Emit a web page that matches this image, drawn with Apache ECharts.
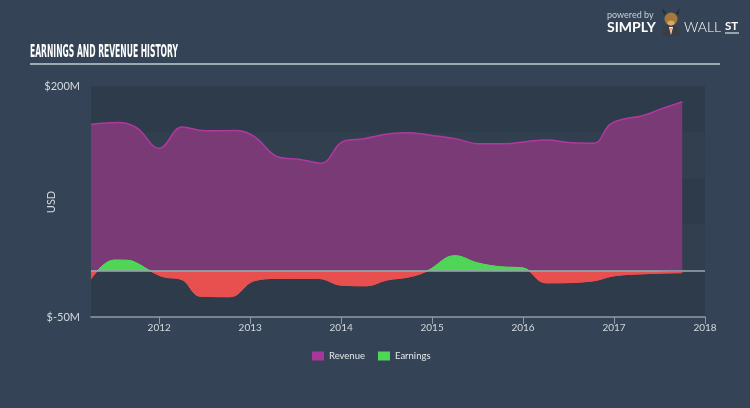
<!DOCTYPE html>
<html>
<head>
<meta charset="utf-8">
<script src="https://cdn.jsdelivr.net/npm/echarts@6/dist/echarts.min.js"></script>
<style>
html,body{margin:0;padding:0;background:#344456;}
#c{width:750px;height:408px;}
</style>
</head>
<body>
<div id="c"></div>
<script>
const chartTitle = 'EARNINGS AND REVENUE HISTORY';
const seriesNames = ['Revenue', 'Earnings'];
const xTickLabels = [2012, 2013, 2014, 2015, 2016, 2017, 2018];
const yTickLabels = [-50, 200];

const revenueDates = [2011.25, 2011.55, 2011.75, 2012.0, 2012.25, 2012.5, 2012.85, 2013.05, 2013.3, 2013.55, 2013.78, 2014.02, 2014.25, 2014.55, 2014.75, 2015.0, 2015.28, 2015.5, 2015.8, 2016.05, 2016.25, 2016.55, 2016.78, 2016.95, 2017.1, 2017.3, 2017.5, 2017.75];
const revenueValues = [158.5, 160.5, 155, 132.5, 155.5, 151.5, 151.8, 145, 123.5, 120.5, 116.5, 140, 143, 148.5, 149.5, 146.5, 142.5, 137.5, 137.5, 140, 141.5, 138.5, 138, 158, 164, 167.5, 174.5, 183];

const earningsDates = [2011.25, 2011.5, 2011.65, 2011.75, 2011.9, 2012.05, 2012.25, 2012.45, 2012.78, 2013.05, 2013.3, 2013.75, 2014.0, 2014.28, 2014.5, 2014.75, 2014.95, 2015.25, 2015.5, 2015.75, 2016.0, 2016.25, 2016.75, 2017.0, 2017.4, 2017.75];
const earningsValues = [-8.5, 11.5, 11.3, 8.5, 0, -6.5, -9.5, -27.5, -28, -10.5, -8.3, -8.3, -15.5, -16.2, -10, -6.5, 0, 16.3, 8.5, 4.3, 3, -13, -11.2, -5.4, -2.9, -2];

const revenueData = revenueDates.map((d, i) => [d, revenueValues[i]]);
const earningsData = earningsDates.map((d, i) => [d, earningsValues[i]]);

const labelColor = '#d3d9df';
const font = 'Lato';
const posColor = '#50d656';
const negColor = '#e84f4f';

const mctx = document.createElement('canvas').getContext('2d');
const titleFont = 'bold 17px "Liberation Sans Narrow", "DejaVu Sans Condensed", sans-serif';
mctx.font = titleFont;
const titleScale = 148 / mctx.measureText(chartTitle).width;

const chart = echarts.init(document.getElementById('c'), null, {renderer: 'canvas'});
chart.setOption({
  backgroundColor: '#344456',
  animation: false,
  grid: {left: 91, right: 45, top: 86, bottom: 91},
  xAxis: {
    type: 'value',
    min: 2011.25,
    max: 2018,
    splitLine: {show: false},
    axisLine: {onZero: false, lineStyle: {color: '#8e9aa7', width: 1.5}},
    axisTick: {customValues: xTickLabels, length: 7, lineStyle: {color: '#8e9aa7'}},
    axisLabel: {customValues: xTickLabels, margin: 6, color: labelColor, fontFamily: font, fontSize: 10, formatter: v => String(Math.round(v))}
  },
  yAxis: {
    type: 'value',
    min: -50,
    max: 200,
    interval: 50,
    axisLine: {show: false},
    axisTick: {show: false},
    splitLine: {show: false},
    splitArea: {show: true, areaStyle: {color: ['#2e3b4a', '#313f4f']}},
    axisLabel: {customValues: yTickLabels, margin: 11, color: labelColor, fontFamily: font, fontSize: 11, formatter: v => '$' + v + 'M'}
  },
  legend: {
    left: 312,
    top: 351,
    padding: 0,
    icon: 'rect',
    itemWidth: 12,
    itemHeight: 9,
    itemGap: 13,
    textStyle: {color: '#e2e7ec', fontFamily: font, fontSize: 9.5},
    data: [
      {name: seriesNames[0], itemStyle: {color: '#a8369b'}},
      {name: seriesNames[1], itemStyle: {color: posColor}}
    ]
  },
  series: [
    {
      name: seriesNames[0],
      type: 'line',
      data: revenueData,
      smooth: 0.4,
      showSymbol: false,
      z: 2,
      lineStyle: {color: '#b0389f', width: 1.5},
      itemStyle: {color: '#a8369b'},
      areaStyle: {color: '#7a3a75', opacity: 1}
    },
    {
      name: seriesNames[1],
      type: 'line',
      data: earningsData,
      smooth: 0.4,
      showSymbol: false,
      z: 3,
      itemStyle: {color: posColor},
      lineStyle: {width: 1, color: posColor},
      areaStyle: {opacity: 1, color: posColor}
    },
    {
      type: 'line',
      data: [],
      z: 5,
      markLine: {
        silent: true,
        symbol: ['none', 'none'],
        label: {show: false},
        lineStyle: {color: '#9ea8b3', width: 1.5, type: 'solid'},
        data: [{yAxis: 0}]
      }
    }
  ],
  graphic: [
    {type: 'text', x: 30, y: 53, scaleX: titleScale, style: {text: chartTitle, font: titleFont, fill: '#ffffff', verticalAlign: 'middle'}},
    {type: 'line', shape: {x1: 30, y1: 64, x2: 720, y2: 64}, style: {stroke: '#c3cbd4', lineWidth: 1.5}},
    {type: 'text', x: 51, y: 202, rotation: Math.PI / 2, style: {text: 'USD', font: '11px Lato', fill: labelColor, align: 'center', verticalAlign: 'middle'}},
    {type: 'text', x: 607, y: 15, style: {text: 'powered by', font: '9px Lato', fill: '#c9d0d7', verticalAlign: 'middle'}},
    {type: 'text', x: 607, y: 27, style: {text: 'SIMPLY', font: 'bold 14px Lato', fill: '#ffffff', verticalAlign: 'middle'}},
    {type: 'polygon', shape: {points: [[662, 36], [664, 27], [671, 25], [678, 27], [681, 36]]}, style: {fill: '#3b3d42'}},
    {type: 'polygon', shape: {points: [[669, 27], [673, 27], [671, 35]]}, style: {fill: '#ffffff'}},
    {type: 'polygon', shape: {points: [[670.3, 28], [671.7, 28], [671, 34]]}, style: {fill: '#e0632a'}},
    {type: 'circle', shape: {cx: 671, cy: 19, r: 6.5}, style: {fill: '#a8773c'}},
    {type: 'polygon', shape: {points: [[664, 15], [662, 8], [666, 13]]}, style: {fill: '#2a2a2a'}},
    {type: 'polygon', shape: {points: [[678, 15], [680, 8], [676, 13]]}, style: {fill: '#2a2a2a'}},
    {type: 'ellipse', shape: {cx: 671, cy: 23, rx: 3.5, ry: 2.5}, style: {fill: '#d9a866'}},
    {type: 'text', x: 684, y: 27, style: {text: 'WALL', font: '300 14px Lato', fill: '#ffffff', verticalAlign: 'middle'}},
    {type: 'text', x: 725, y: 26, style: {text: 'ST', font: 'bold 11.5px Lato', fill: '#ffffff', verticalAlign: 'middle'}},
    {type: 'line', shape: {x1: 725, y1: 33, x2: 739, y2: 33}, style: {stroke: '#ffffff', lineWidth: 1}}
  ]
});

// split earnings colour at the zero line using a global gradient derived from the axis
const yTop = chart.convertToPixel({yAxisIndex: 0}, 200);
const yBot = chart.convertToPixel({yAxisIndex: 0}, -50);
const yZero = chart.convertToPixel({yAxisIndex: 0}, 0);
const r = (yZero - yTop) / (yBot - yTop);
const grad = () => new echarts.graphic.LinearGradient(0, yTop, 0, yBot, [
  {offset: 0, color: posColor}, {offset: r, color: posColor},
  {offset: r, color: negColor}, {offset: 1, color: negColor}
], true);
chart.setOption({series: [{}, {lineStyle: {color: grad()}, areaStyle: {color: grad()}}]});
</script>
</body>
</html>
